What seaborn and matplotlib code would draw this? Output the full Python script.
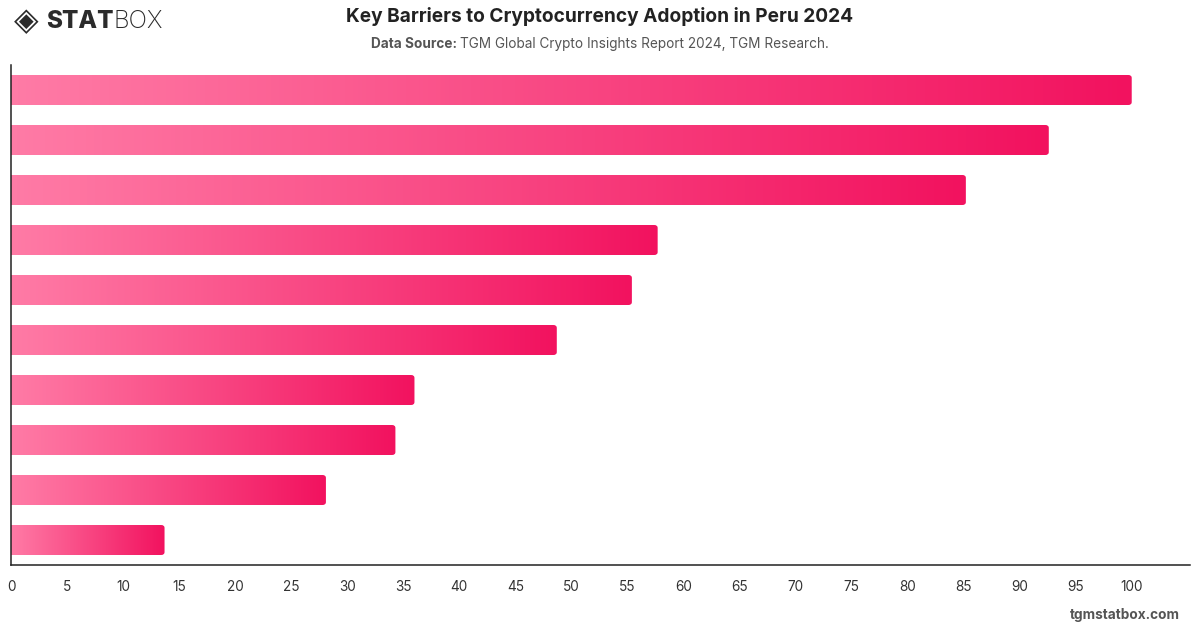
import numpy as np
import pandas as pd
import matplotlib.pyplot as plt
import seaborn as sns
from matplotlib.colors import LinearSegmentedColormap
from matplotlib.patches import FancyBboxPatch

# Data (bars top to bottom)
barriers = [f"Barrier {i}" for i in range(1, 11)]
scores = [100, 92.6, 85.2, 57.7, 55.4, 48.7, 36.0, 34.3, 28.1, 13.7]
x_ticks = list(range(0, 105, 5))

df = pd.DataFrame({"barrier": barriers, "score": scores})

sns.set_style("white")
plt.rcParams['font.family'] = ['Inter', 'DejaVu Sans']

W, H = 1200, 628
fig = plt.figure(figsize=(W / 100, H / 100), dpi=100)
ax = fig.add_axes([11 / W, 1 - 565 / H, (1190 - 11) / W, 500 / H])

sns.barplot(data=df, x="score", y="barrier", orient="h", width=0.6,
            color="#f5307a", ax=ax)

# swap flat bars for left-to-right gradient bars with rounded right corners
cmap = LinearSegmentedColormap.from_list("pink", ["#ff7ba6", "#f2125f"])
grad = np.linspace(0, 1, 256).reshape(1, -1)
for p in list(ax.patches):
    x0, y0 = p.get_x(), p.get_y()
    w, h = p.get_width(), p.get_height()
    p.set_visible(False)
    clip = FancyBboxPatch((x0 - 1, y0), w + 1, h,
                          boxstyle="round,pad=0,rounding_size=0.3",
                          mutation_aspect=0.2, transform=ax.transData,
                          facecolor='none', edgecolor='none')
    ax.add_patch(clip)
    im = ax.imshow(grad, cmap=cmap, extent=[x0, x0 + w, y0 + h, y0],
                   aspect='auto', interpolation='bilinear', zorder=2)
    im.set_clip_path(clip)

ax.set_xlim(0, 105.2)
ax.set_ylim(9.5, -0.5)
ax.set_xticks(x_ticks)
ax.set_xticklabels([str(t) for t in x_ticks])
ax.set_yticks([])
ax.set_xlabel('')
ax.set_ylabel('')
ax.tick_params(axis='x', length=0, pad=11, labelsize=9.8, labelcolor='#333333')
sns.despine(ax=ax)
for s in ['left', 'bottom']:
    ax.spines[s].set_color('#222222')
    ax.spines[s].set_linewidth(1.1)

# Title block
fig.text(0.5, 1 - 17 / H, "Key Barriers to Cryptocurrency Adoption in Peru 2024",
         ha='center', va='center', fontsize=13.75, fontweight='bold', color='#222222')

renderer = fig.canvas.get_renderer()


def text_run(x_px, y_px, parts, size, align='left', family=None):
    # parts: list of (text, weight, color)
    fam = family or plt.rcParams['font.family']
    widths = []
    for txt, wt, col in parts:
        t = fig.text(0, 0, txt, fontsize=size, fontweight=wt, family=fam)
        widths.append(t.get_window_extent(renderer).width)
        t.remove()
    total = sum(widths)
    if align == 'center':
        x = x_px - total / 2
    elif align == 'right':
        x = x_px - total
    else:
        x = x_px
    for (txt, wt, col), wd in zip(parts, widths):
        fig.text(x / W, 1 - y_px / H, txt, fontsize=size, fontweight=wt,
                 color=col, ha='left', va='center', family=fam)
        x += wd


text_run(600, 44, [("Data Source: ", 'bold', '#555555'),
                   ("TGM Global Crypto Insights Report 2024, TGM Research.", 'normal', '#555555')],
         9.8, align='center')

# logo
fig.text(14 / W, 1 - 22 / H, "◈", fontsize=23, fontweight='bold', color='#2b2b2b',
         ha='left', va='center', family=['DejaVu Sans'])
text_run(46, 22, [("STAT", 'heavy', '#2b2b2b'), ("BOX", 'light', '#2b2b2b')], 17.5)

# footer
text_run(1180, 615, [("tgmstatbox.com", 'bold', '#555555')], 9.8, align='right')

fig.savefig('out.png', dpi=100)
